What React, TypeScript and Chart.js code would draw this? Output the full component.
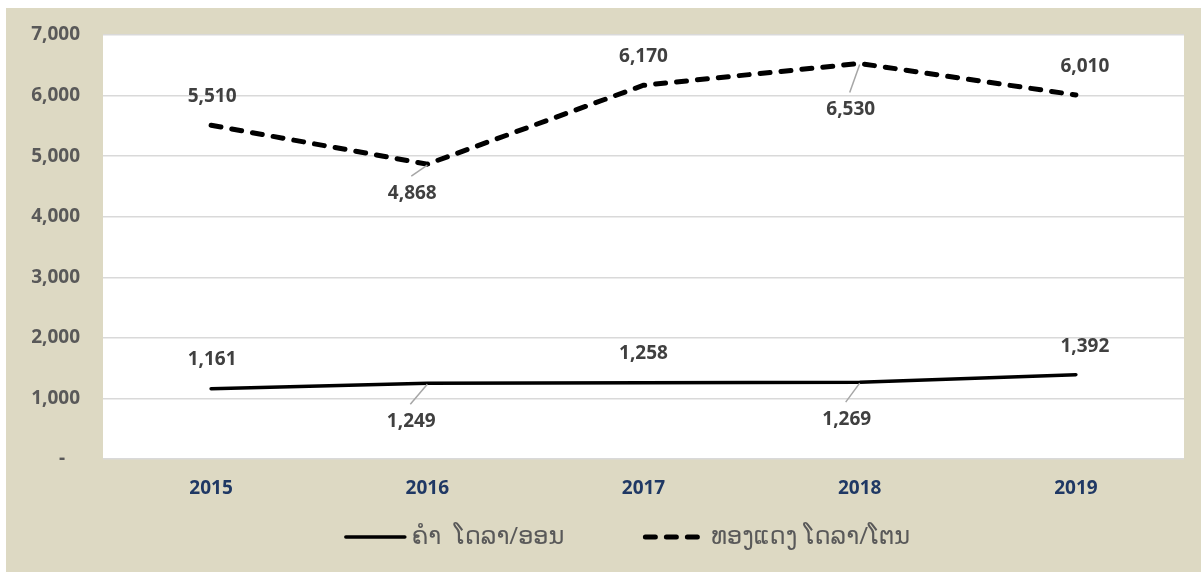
import React, { useEffect, useRef } from "react";
import { Chart, registerables } from "chart.js";

Chart.register(...registerables);

// ---------- data ----------
const years = ["2015", "2016", "2017", "2018", "2019"];
const goldValues = [1161, 1249, 1258, 1269, 1392];
const copperValues = [5510, 4868, 6170, 6530, 6010];
const goldLabel = "ຄຳ  ໂດລາ/ອອນ";
const copperLabel = "ທອງແດງ ໂດລາ/ໂຕນ";
const yMin = 0;
const yMax = 7000;
const yStep = 1000;

// ---------- style / placement (not data) ----------
const BG = "#DDD9C3";
const LABEL_FONT = "bold 19px 'Open Sans', 'DejaVu Sans', sans-serif";
const LEGEND_FONT = "24px 'Open Sans', 'DejaVu Sans', sans-serif";
// [dx, dy, leader] relative to the point, per dataset (gold, copper)
const LABEL_PLACEMENT: [number, number, boolean][][] = [
  [[1, -29, false], [-16, 38, true], [0, -29, false], [-13, 37, true], [9, -28, false]],
  [[1, -29, false], [-15, 29, true], [0, -29, false], [-9, 46, true], [9, -28, false]],
];

const fmt = (v: number) => v.toLocaleString("en-US");

const plotBgPlugin = {
  id: "plotBg",
  beforeDraw(chart: any) {
    const { ctx, chartArea } = chart;
    ctx.save();
    ctx.fillStyle = "#ffffff";
    ctx.fillRect(chartArea.left, chartArea.top, chartArea.right - chartArea.left, chartArea.bottom - chartArea.top);
    ctx.restore();
  },
};

const dataLabelPlugin = {
  id: "dataLabels",
  afterDatasetsDraw(chart: any) {
    const { ctx } = chart;
    ctx.save();
    chart.data.datasets.forEach((ds: any, i: number) => {
      const meta = chart.getDatasetMeta(i);
      meta.data.forEach((el: any, j: number) => {
        const [dx, dy, leader] = LABEL_PLACEMENT[i][j];
        const lx = el.x + dx;
        const ly = el.y + dy;
        if (leader) {
          ctx.strokeStyle = "#A6A6A6";
          ctx.lineWidth = 1.5;
          ctx.setLineDash([]);
          ctx.beginPath();
          ctx.moveTo(el.x, el.y + 1);
          ctx.lineTo(lx - 1, ly - 17);
          ctx.stroke();
        }
        ctx.font = LABEL_FONT;
        ctx.fillStyle = "#404040";
        ctx.textAlign = "center";
        ctx.textBaseline = "middle";
        ctx.fillText(fmt(ds.data[j]), lx, ly);
      });
    });
    ctx.restore();
  },
};

const legendPlugin = {
  id: "customLegend",
  afterDraw(chart: any) {
    const { ctx } = chart;
    const y = 529;
    const sampleW = 63;
    const sampleGap = 5;
    const itemGap = 79;
    ctx.save();
    ctx.font = LEGEND_FONT;
    const items = chart.data.datasets.map((ds: any) => ({
      text: ds.label,
      w: ctx.measureText(ds.label).width,
      dash: ds.borderDash || [],
      lw: ds.borderWidth,
    }));
    const total = items.reduce((s: number, it: any) => s + sampleW + sampleGap + it.w, 0) + itemGap * (items.length - 1);
    let x = 621 - total / 2;
    items.forEach((it: any) => {
      ctx.strokeStyle = "#000";
      ctx.lineWidth = it.lw;
      ctx.lineCap = "round";
      ctx.setLineDash(it.dash);
      ctx.beginPath();
      ctx.moveTo(x + 2, y);
      ctx.lineTo(x + sampleW - 2, y);
      ctx.stroke();
      ctx.setLineDash([]);
      ctx.fillStyle = "#595959";
      ctx.textAlign = "left";
      ctx.textBaseline = "middle";
      ctx.fillText(it.text, x + sampleW + sampleGap, y);
      x += sampleW + sampleGap + it.w + itemGap;
    });
    ctx.restore();
  },
};

export default function App() {
  const canvasRef = useRef<HTMLCanvasElement | null>(null);

  useEffect(() => {
    if (!canvasRef.current) return;
    const chart = new Chart(canvasRef.current, {
      type: "line",
      data: {
        labels: years,
        datasets: [
          {
            label: goldLabel,
            data: goldValues,
            borderColor: "#000000",
            borderWidth: 3.5,
            pointRadius: 0,
            borderCapStyle: "round",
            fill: false,
            tension: 0,
          },
          {
            label: copperLabel,
            data: copperValues,
            borderColor: "#000000",
            borderWidth: 5,
            borderDash: [10, 11],
            pointRadius: 0,
            borderCapStyle: "round",
            fill: false,
            tension: 0,
          },
        ],
      },
      options: {
        animation: false,
        responsive: true,
        maintainAspectRatio: false,
        layout: { padding: { top: 27, right: 17, left: 0, bottom: 0 } },
        plugins: {
          legend: { display: false },
          tooltip: { enabled: false },
        },
        scales: {
          x: {
            offset: true,
            grid: { display: false, drawTicks: false },
            border: { display: false },
            ticks: {
              color: "#1F3864",
              font: { family: "'Open Sans', sans-serif", size: 19, weight: "bold" },
              padding: 18,
            },
            afterFit(scale: any) {
              scale.height = 113;
            },
          },
          y: {
            min: yMin,
            max: yMax,
            grid: { color: "#D9D9D9", lineWidth: 1.5, drawTicks: false },
            border: { display: false },
            ticks: {
              stepSize: yStep,
              color: "#595959",
              font: { family: "'Open Sans', sans-serif", size: 19, weight: "bold" },
              padding: 23,
              callback: (v: any) => (Number(v) === 0 ? "-   " : fmt(Number(v))),
            },
            afterFit(scale: any) {
              scale.width = 97;
              scale.paddingTop = 12;
              scale.paddingBottom = 12;
            },
          },
        },
      },
      plugins: [plotBgPlugin, dataLabelPlugin, legendPlugin],
    });
    return () => chart.destroy();
  }, []);

  return (
    <div
      style={{
        position: "fixed",
        left: 6,
        top: 8,
        width: 1195,
        height: 564,
        background: BG,
      }}
    >
      <canvas ref={canvasRef} />
    </div>
  );
}
